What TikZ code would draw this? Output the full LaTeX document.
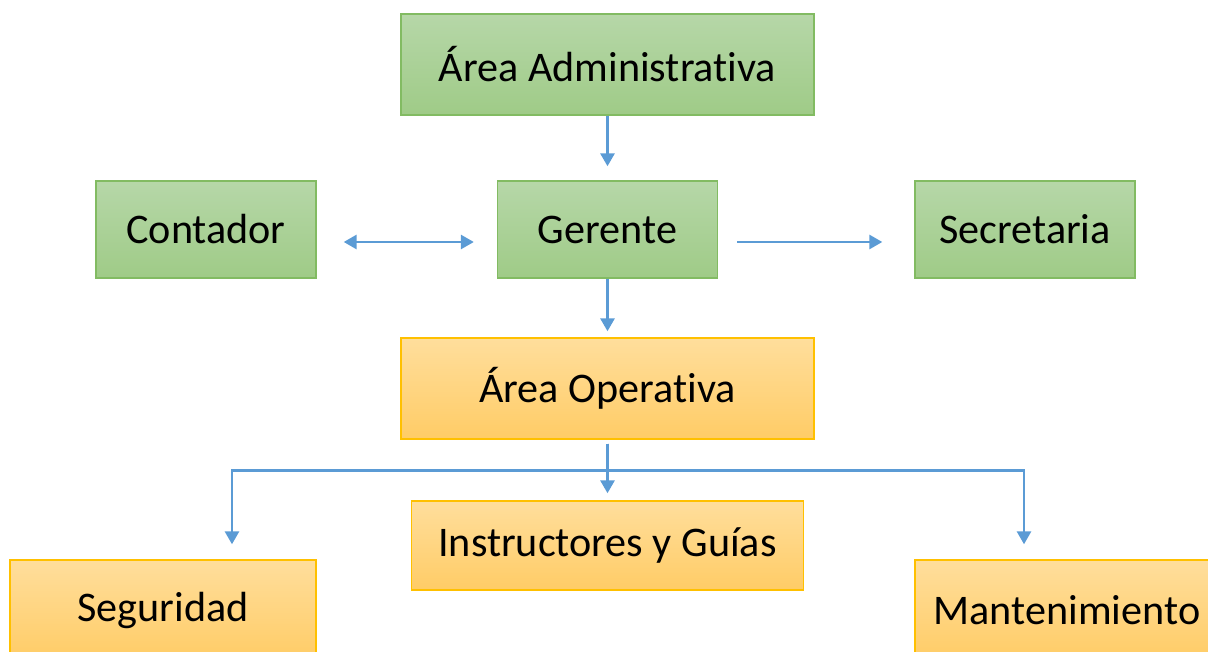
\documentclass[tikz,border=0pt]{standalone}
\usepackage{fontspec}
\setmainfont{Carlito}[Ligatures=NoCommon]
\usetikzlibrary{arrows,arrows.meta}
\definecolor{verdeA}{HTML}{B6D7A8}
\definecolor{verdeB}{HTML}{9FCB87}
\definecolor{verdeBorde}{HTML}{82BB62}
\definecolor{naranjaA}{HTML}{FFDE9C}
\definecolor{naranjaB}{HTML}{FFCC66}
\definecolor{naranjaBorde}{HTML}{FFC000}
\definecolor{azul}{HTML}{5B9BD5}
\tikzset{%
	verde/.style    = {draw=verdeBorde, line width=0.8pt, rectangle, top color=verdeA,
		bottom color=verdeB, font=\fontsize{24}{28}\selectfont},
	naranja/.style  = {draw=naranjaBorde, line width=0.8pt, rectangle, top color=naranjaA,
		bottom color=naranjaB, font=\fontsize{24}{28}\selectfont},
	punta/.tip      = {Triangle[length=0.26cm,width=0.28cm]},
	flecha/.style   = {draw=azul, line width=1.6pt, -punta}, % Conector
	doble/.style    = {draw=azul, line width=1.6pt, punta-punta} % Conector doble
}

\begin{document}
\begin{tikzpicture}[x=0.02cm,y=-0.02cm]
                \useasboundingbox (0,0) rectangle (1208,652);
                \clip (0,0) rectangle (1208,652);

                \node[verde, minimum width=8.26cm, minimum height=2.02cm] (admin) at (607.5,64.5) {Área Administrativa} ;
                \node[verde, minimum width=4.4cm, minimum height=1.94cm] (contador) at (206,229.5) {Contador} ;
                \node[verde, minimum width=4.4cm, minimum height=1.94cm] (gerente) at (607.5,229.5) {Gerente} ;
                \node[verde, minimum width=4.4cm, minimum height=1.94cm] (secretaria) at (1025,229.5) {Secretaria} ;
                \node[naranja, minimum width=8.26cm, minimum height=2.02cm] (operativa) at (607.5,388.5) {Área Operativa} ;
                \node[naranja, minimum width=7.84cm, minimum height=1.78cm] (instructores) at (607.5,545.5) {Instructores y Guías} ;
                \node[naranja, minimum width=6.12cm, minimum height=2.0cm] (seguridad) at (163,610) {Seguridad} ;
                \node[naranja, minimum width=6.08cm, minimum height=2.0cm] (mantenimiento) at (1067,610) {Mantenimiento} ;

                \draw[flecha, shorten >=0.28cm] (admin) -- (gerente);
                \draw[doble, shorten <=0.54cm, shorten >=0.46cm] ([yshift=-0.25cm]contador.east) -- ([yshift=-0.25cm]gerente.west);
                \draw[flecha, shorten <=0.38cm, shorten >=0.64cm] ([yshift=-0.25cm]gerente.east) -- ([yshift=-0.25cm]secretaria.west);
                \draw[flecha, shorten >=0.12cm] (gerente) -- (operativa);
                \draw[flecha, shorten <=0.08cm, shorten >=0.14cm] (operativa) -- (instructores);
                \draw[flecha, shorten <=0.08cm] (operativa.south) -- ++(0,31) -| ([xshift=1.38cm,yshift=0.3cm]seguridad.north);
                \draw[flecha, shorten <=0.08cm] (operativa.south) -- ++(0,31) -| ([xshift=-0.86cm,yshift=0.3cm]mantenimiento.north);
            \end{tikzpicture}
\end{document}
